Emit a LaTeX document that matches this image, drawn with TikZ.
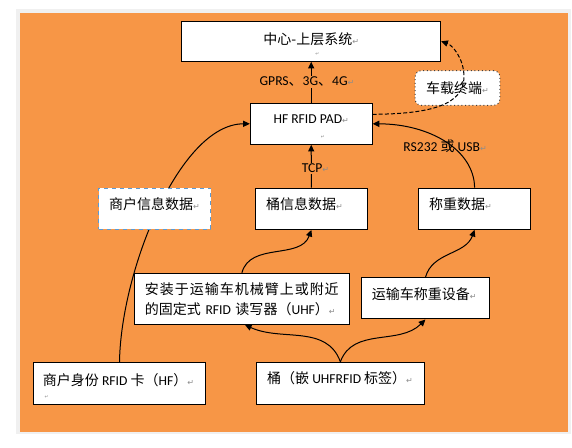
\documentclass[tikz,border=0pt]{standalone}
\usepackage{fontspec}
\setmainfont{Carlito}
\newfontfamily\cjk[Scale=1.03]{Noto Sans CJK SC}
\newfontfamily\symf{DejaVu Sans}
\usetikzlibrary{arrows.meta,calc}
\definecolor{bgorange}{HTML}{F79646}
\definecolor{framegray}{HTML}{F0F0F0}
\definecolor{dashblue}{HTML}{5B9BD5}
\definecolor{retgray}{HTML}{8C8C8C}
\newcommand\zh[1]{{\cjk #1}}
\newcommand\ret{{\color{retgray}\symf\fontsize{6}{6}\selectfont ↵}}
\newcommand\lft[2]{\makebox[#1][l]{#2}}
\pgfdeclarelayer{bg}\pgfdeclarelayer{edges}\pgfsetlayers{bg,edges,main}
\begin{document}
\begin{tikzpicture}[x=0.75pt,y=-0.75pt,
  every node/.style={font=\fontsize{10.2}{15}\selectfont, inner sep=0pt},
  box/.style={draw=black, line width=0.75pt, fill=white},
  lbox/.style={box, inner xsep=8pt, text height=5.4pt, text depth=4.6pt},
  lbl/.style={fill=bgorange, inner sep=1pt},
  tinymark/.style={text=retgray, font=\symf\fontsize{3.5}{4}\selectfont},
  arr/.style={line width=0.75pt, -{Triangle[length=5pt,width=4.6pt]}},
  dcurve/.style={arr, dash pattern=on 3pt off 1.6pt}
]
\begin{pgfonlayer}{bg}
  \fill[white] (0,0) rectangle (572,448);
  \fill[framegray] (16,9) rectangle (571,434);
  \fill[bgorange] (20,12.7) rectangle (567.7,431.7);
\end{pgfonlayer}
\useasboundingbox (0,0) rectangle (572,448);

% boxes
\node[box, minimum width=194.25pt, minimum height=30pt, text height=7.2pt, text depth=2.8pt] (top) at (311.2,41.3) {\zh{中心-上层系统}\ret};
\node[box, minimum width=91.35pt, minimum height=30.75pt, text height=5pt, text depth=5pt] (pad) at (311.2,123.8) {HF RFID PAD\ret};
\node[draw=black!75, dotted, line width=0.75pt, rounded corners=4.5pt, fill=white, minimum width=63.45pt, minimum height=25.9pt] (vt) at (457.5,88) {\zh{车载终端}\ret};

\node[lbox, draw=dashblue, dashed, minimum width=84pt, minimum height=31pt] (sx) at (154.5,208.7) {\lft{68pt}{\zh{商户信息数据}\ret}};
\node[lbox, minimum width=84pt, minimum height=31pt] (tx) at (311.4,208.7) {\lft{68pt}{\zh{桶信息数据}\ret}};
\node[lbox, minimum width=84.2pt, minimum height=31pt] (wt) at (474.6,208.7) {\lft{68.2pt}{\zh{称重数据}\ret}};

\node[box, inner xsep=8pt, minimum width=161.4pt, minimum height=38.25pt, text width=145.4pt, align=left] (rd) at (241.9,298.8)
  {\makebox[145.35pt][s]{\cjk 安\hfil 装\hfil 于\hfil 运\hfil 输\hfil 车\hfil 机\hfil 械\hfil 臂\hfil 上\hfil 或\hfil 附\hfil 近}\\
   \zh{的固定式} RFID \zh{读写器（}UHF\zh{）}\ret};
\node[lbox, minimum width=96.3pt, minimum height=30.75pt] (ws) at (425.4,298.5) {\lft{80.3pt}{\zh{运输车称重设备}\ret}};
\node[lbox, inner xsep=7pt, text height=6.4pt, text depth=3.6pt, minimum width=128.85pt, minimum height=31.5pt] (id) at (119.5,383.3) {\lft{114.85pt}{\zh{商户身份} RFID \zh{卡（}HF\zh{）}\ret}};
\node[lbox, minimum width=125.85pt, minimum height=31.5pt] (tong) at (340.4,383.3) {\lft{109.85pt}{\zh{桶（嵌} UHFRFID \zh{标签）}\ret}};

% small paragraph marks
\node[tinymark] (m1) at (317.4,54.3) {↵};
\node[tinymark] (m2) at (322.9,136.7) {↵};
\node[tinymark] (m3) at (46.7,397) {↵};

% labels
\node[lbl] (gprs) at (307,81.7) {GPRS\zh{、}3G\zh{、}4G\ret};
\node[lbl] (tcp) at (315.5,168.3) {TCP\ret};
\node[inner sep=1pt] (rs) at (445.1,146.7) {RS232 \zh{或} USB\ret};

% connectors
\begin{pgfonlayer}{edges}
  \draw[arr] (pad.north) -- (top.south);
  \draw[arr] (tx.north) -- (pad.south);
  \draw[arr] (id.north) .. controls (121,270) and (180,124) .. (pad.west);
  \draw[arr] (wt.north) .. controls (474,150) and (430,124) .. (pad.east);
  \draw[arr] (rd.north) to[out=75,in=-110] (tx.south);
  \draw[arr] (ws.north) to[out=75,in=-110] (wt.south);
  \draw[arr] (tong.north) to[out=110,in=-25] ($(rd.south)+(3,0)$);
  \draw[arr] (tong.north) to[out=70,in=-135] (ws.south);
\end{pgfonlayer}
\draw[dcurve] ($(pad.east)+(0,-9.5)$) .. controls (430,114) and (464,105) .. (464,77)
  .. controls (464,58) and (452,45) .. (top.east);
\end{tikzpicture}
\end{document}
